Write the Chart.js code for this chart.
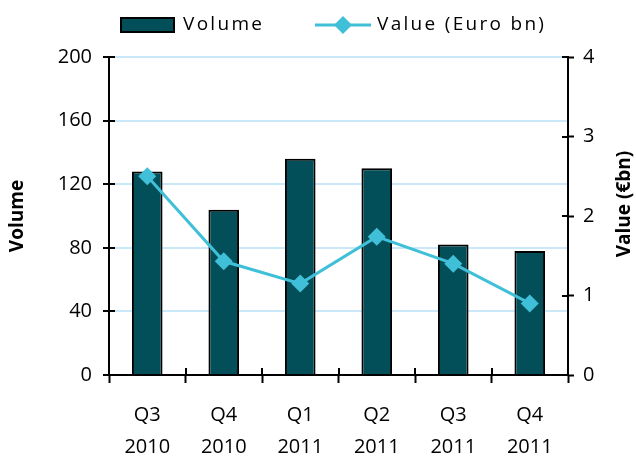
<!DOCTYPE html>
<html>
<head>
<meta charset="utf-8">
<script src="https://cdn.jsdelivr.net/npm/chart.js@4/dist/chart.umd.min.js"></script>
<style>
	html, body { margin: 0; padding: 0; background: #fff; }
	#wrap { width: 636px; height: 456px; }
</style>
</head>
<body>
<div id="wrap"><canvas id="chart" width="636" height="456"></canvas></div>
<script>
const categories = [['Q3', '2010'], ['Q4', '2010'], ['Q1', '2011'], ['Q2', '2011'], ['Q3', '2011'], ['Q4', '2011']];
const volume = [128, 104, 136, 130, 82, 78];
const valueBn = [2.5, 1.43, 1.15, 1.74, 1.4, 0.9];
const volumeTicks = [0, 40, 80, 120, 160, 200];
const valueTicks = [0, 1, 2, 3, 4];

const BAR = '#024f59';
const LINE = '#40c0d8';
const GRID = '#cbe8f8';
const FONT = '"Open Sans", sans-serif';

// little ticks that cross the axis lines, inner half
const crossTicks = {
	id: 'crossTicks',
	afterDraw(chart) {
		const ctx = chart.ctx;
		const area = chart.chartArea;
		const x = chart.scales.x, y = chart.scales.y, y2 = chart.scales.y2;
		ctx.save();
		ctx.strokeStyle = '#000';
		ctx.lineWidth = 2;
		ctx.beginPath();
		volumeTicks.forEach(v => {
			const py = Math.round(y.getPixelForValue(v));
			ctx.moveTo(area.left, py);
			ctx.lineTo(area.left + 6, py);
		});
		valueTicks.forEach(v => {
			const py = Math.round(y2.getPixelForValue(v));
			ctx.moveTo(area.right - 6, py);
			ctx.lineTo(area.right, py);
		});
		for (let i = 0; i <= categories.length; i++) {
			const px = Math.round(x.getPixelForValue(i - 0.5));
			ctx.moveTo(px, area.bottom - 7);
			ctx.lineTo(px, area.bottom);
		}
		ctx.stroke();

		// right axis title, reading bottom to top
		ctx.fillStyle = '#000';
		ctx.font = 'bold 19px ' + FONT;
		ctx.textAlign = 'center';
		ctx.textBaseline = 'middle';
		ctx.translate(625, 204);
		ctx.rotate(-Math.PI / 2);
		ctx.fillText('Value (€bn)', 0, 0);
		ctx.restore();
	}
};

// legend drawn by hand: filled box for bars, line with diamond for value
const topLegend = {
	id: 'topLegend',
	afterDraw(chart) {
		const ctx = chart.ctx;
		const ds = chart.data.datasets;
		ctx.save();
		ctx.font = '19px ' + FONT;
		ctx.letterSpacing = '2.3px';
		ctx.textBaseline = 'middle';
		const cy = 25;

		ctx.fillStyle = BAR;
		ctx.fillRect(121, 18, 53, 14);
		ctx.strokeStyle = '#000';
		ctx.lineWidth = 2;
		ctx.strokeRect(121, 18, 53, 14);
		ctx.fillStyle = '#000';
		ctx.fillText(ds[1].label, 183, cy);

		ctx.strokeStyle = LINE;
		ctx.lineWidth = 3;
		ctx.beginPath();
		ctx.moveTo(315, cy);
		ctx.lineTo(371, cy);
		ctx.stroke();
		ctx.fillStyle = LINE;
		ctx.beginPath();
		ctx.moveTo(343, cy - 9);
		ctx.lineTo(352, cy);
		ctx.lineTo(343, cy + 9);
		ctx.lineTo(334, cy);
		ctx.closePath();
		ctx.fill();
		ctx.fillStyle = '#000';
		ctx.fillText(ds[0].label, 377, cy);
		ctx.restore();
	}
};

new Chart(document.getElementById('chart').getContext('2d'), {
	type: 'bar',
	data: {
		labels: categories,
		datasets: [
			{
				label: 'Value (Euro bn)',
				type: 'line',
				data: valueBn,
				yAxisID: 'y2',
				borderColor: LINE,
				backgroundColor: LINE,
				borderWidth: 3,
				pointStyle: 'rectRot',
				pointRadius: 9,
				pointBorderWidth: 0,
				pointBackgroundColor: LINE,
				tension: 0,
				order: 0
			},
			{
				label: 'Volume',
				data: volume,
				yAxisID: 'y',
				backgroundColor: BAR,
				borderColor: '#000',
				borderWidth: 2,
				categoryPercentage: 1,
				barPercentage: 0.4,
				order: 1
			}
		]
	},
	options: {
		responsive: false,
		animation: false,
		layout: { padding: { top: 57, left: 0, right: 0, bottom: 0 } },
		plugins: {
			legend: { display: false },
			tooltip: { enabled: false }
		},
		scales: {
			x: {
				offset: true,
				afterFit: s => { s.height = 81; },
				grid: {
					offset: true,
					drawOnChartArea: false,
					tickLength: 8,
					tickColor: '#000',
					tickWidth: 2
				},
				border: { color: '#000', width: 2 },
				ticks: {
					color: '#000',
					padding: 16,
					maxRotation: 0,
					font: { family: FONT, size: 20, lineHeight: 1.62 }
				}
			},
			y: {
				position: 'left',
				min: 0,
				max: 200,
				afterFit: s => { s.width = 109; },
				afterBuildTicks: s => { s.ticks = volumeTicks.map(v => ({ value: v })); },
				grid: {
					color: ctx => ctx.tick && ctx.tick.value === 0 ? 'rgba(0,0,0,0)' : GRID,
					lineWidth: 2,
					tickLength: 6,
					tickColor: '#000',
					tickWidth: 2
				},
				border: { color: '#000', width: 2 },
				ticks: {
					color: '#000',
					padding: 11,
					font: { family: FONT, size: 20 }
				},
				title: {
					display: true,
					text: 'Volume',
					color: '#000',
					padding: { top: 6, bottom: 0 },
					font: { family: FONT, size: 19, weight: 'bold' }
				}
			},
			y2: {
				position: 'right',
				min: 0,
				max: 4,
				afterFit: s => { s.width = 68; },
				afterBuildTicks: s => { s.ticks = valueTicks.map(v => ({ value: v })); },
				grid: {
					drawOnChartArea: false,
					tickLength: 6,
					tickColor: '#000',
					tickWidth: 2
				},
				border: { color: '#000', width: 2 },
				ticks: {
					color: '#000',
					padding: 9,
					font: { family: FONT, size: 20 }
				}
			}
		}
	},
	plugins: [crossTicks, topLegend]
});
</script>
</body>
</html>
